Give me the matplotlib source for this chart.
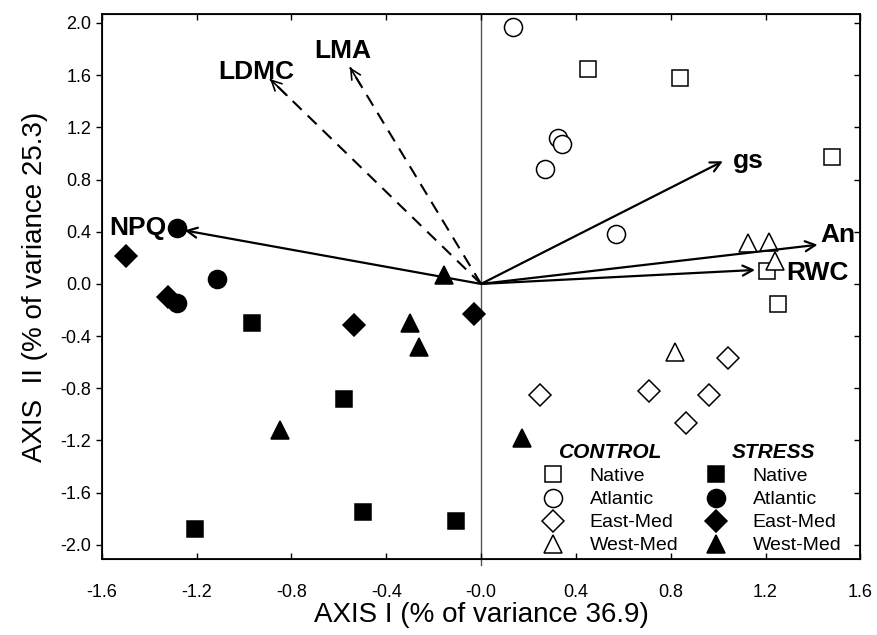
import matplotlib
matplotlib.use("Agg")
import matplotlib.pyplot as plt

plt.rcParams['font.family'] = ['Liberation Sans', 'DejaVu Sans']

# control group scores (open symbols)
ctrl_native_x = [0.45, 0.84, 1.48, 1.207, 1.253]
ctrl_native_y = [1.65, 1.58, 0.97, 0.10, -0.153]
ctrl_atl_x = [0.135, 0.325, 0.34, 0.27, 0.57]
ctrl_atl_y = [1.97, 1.12, 1.07, 0.88, 0.38]
ctrl_east_x = [0.25, 0.71, 1.04, 0.96, 0.865]
ctrl_east_y = [-0.85, -0.82, -0.57, -0.85, -1.065]
ctrl_west_x = [1.127, 1.215, 1.24, 0.82]
ctrl_west_y = [0.314, 0.322, 0.176, -0.52]

# stress group scores (filled symbols)
str_native_x = [-0.966, -0.58, -1.207, -0.50, -0.105]
str_native_y = [-0.30, -0.88, -1.88, -1.75, -1.82]
str_atl_x = [-1.283, -1.114, -1.283]
str_atl_y = [0.43, 0.04, -0.146]
str_east_x = [-1.498, -1.32, -0.536, -0.03]
str_east_y = [0.215, -0.10, -0.315, -0.23]
str_west_x = [-0.156, -0.30, -0.26, -0.85, 0.173]
str_west_y = [0.07, -0.30, -0.48, -1.12, -1.18]

# trait vectors
vec_names = ["NPQ", "LDMC", "LMA", "gs", "An", "RWC"]
vec_x = [-1.25, -0.89, -0.553, 1.02, 1.42, 1.156]
vec_y = [0.41, 1.57, 1.66, 0.94, 0.30, 0.107]
vec_dashed = [False, True, True, False, False, False]

groups = ["Native", "Atlantic", "East-Med", "West-Med"]

xticks = [-1.6, -1.2, -0.8, -0.4, 0.0, 0.4, 0.8, 1.2, 1.6]
xtick_labels = ["-1.6", "-1.2", "-0.8", "-0.4", "-0.0", "0.4", "0.8", "1.2", "1.6"]
yticks = [-2.0, -1.6, -1.2, -0.8, -0.4, 0.0, 0.4, 0.8, 1.2, 1.6, 2.0]
ytick_labels = ["-2.0", "-1.6", "-1.2", "-0.8", "-0.4", "0.0", "0.4", "0.8", "1.2", "1.6", "2.0"]

fig = plt.figure(figsize=(8.77, 6.35), dpi=100)
ax = fig.add_axes([0.116, 0.12, 0.865, 0.858])
ax.set_xlim(-1.6, 1.6)
ax.set_ylim(-2.107, 2.069)

ax.axvline(0, ymin=-0.012, ymax=1, color="#555555", lw=1.0, clip_on=False, zorder=1)

# vectors
for name, vx, vy, d in zip(vec_names, vec_x, vec_y, vec_dashed):
    if d:
        ax.plot([0, vx], [0, vy], color="k", lw=1.5, ls=(0, (6, 4)), zorder=2)
        ax.annotate("", xy=(vx, vy), xytext=(vx * 0.92, vy * 0.92),
                    arrowprops=dict(arrowstyle="->", lw=1.2, color="k",
                                    mutation_scale=18, shrinkA=0, shrinkB=0))
    else:
        ax.annotate("", xy=(vx, vy), xytext=(0, 0),
                    arrowprops=dict(arrowstyle="->", lw=1.6, color="k",
                                    mutation_scale=18, shrinkA=0, shrinkB=0))

lab = dict(fontsize=19, fontweight="bold")
ax.text(-1.325, 0.43, "NPQ", ha="right", va="center", **lab)
ax.text(-0.95, 1.57, "LDMC", ha="center", va="baseline", **lab)
ax.text(-0.582, 1.73, "LMA", ha="center", va="baseline", **lab)
ax.text(1.063, 0.94, "gs", ha="left", va="center", **lab)
ax.text(1.43, 0.375, "An", ha="left", va="center", **lab)
ax.text(1.287, 0.08, "RWC", ha="left", va="center", **lab)

mk = dict(ls="none", color="k", mec="k", mew=1.1)
h1 = [
    ax.plot(ctrl_native_x, ctrl_native_y, "s", ms=12, mfc="white", **mk)[0],
    ax.plot(ctrl_atl_x, ctrl_atl_y, "o", ms=13, mfc="white", **mk)[0],
    ax.plot(ctrl_east_x, ctrl_east_y, "D", ms=11, mfc="white", **mk)[0],
    ax.plot(ctrl_west_x, ctrl_west_y, "^", ms=13, mfc="white", **mk)[0],
]
h2 = [
    ax.plot(str_native_x, str_native_y, "s", ms=11, mfc="k", **mk)[0],
    ax.plot(str_atl_x, str_atl_y, "o", ms=13, mfc="k", **mk)[0],
    ax.plot(str_east_x, str_east_y, "D", ms=11, mfc="k", **mk)[0],
    ax.plot(str_west_x, str_west_y, "^", ms=13, mfc="k", **mk)[0],
]

leg_kw = dict(frameon=False, fontsize=14, handlelength=1.0, handletextpad=1.4,
              labelspacing=0.28, borderpad=0, borderaxespad=0, loc="upper left",
              bbox_transform=fig.transFigure,
              title_fontproperties=dict(size=15, weight="bold", style="italic"))
leg1 = ax.legend(h1, groups, title="CONTROL", bbox_to_anchor=(0.619, 0.302), **leg_kw)
ax.add_artist(leg1)
ax.legend(h2, groups, title="STRESS", bbox_to_anchor=(0.805, 0.302), **leg_kw)

ax.set_xticks(xticks)
ax.set_xticklabels(xtick_labels)
ax.set_yticks(yticks)
ax.set_yticklabels(ytick_labels)
ax.tick_params(axis="both", labelsize=13, width=1.0, length=4)
ax.tick_params(axis="x", direction="in", top=True, pad=18)
ax.tick_params(axis="y", direction="out", right=False)

# inward ticks on the right side
ax2 = ax.twinx()
ax2.set_ylim(ax.get_ylim())
ax2.set_yticks(yticks)
ax2.tick_params(axis="y", direction="in", length=4, width=1.0, labelright=False)

for sp in ax.spines.values():
    sp.set_linewidth(1.3)

ax.set_xlabel("AXIS I (% of variance 36.9)", fontsize=20, labelpad=1)
ax.set_ylabel("AXIS  II (% of variance 25.3)", fontsize=20, labelpad=9)

fig.savefig("out.png", dpi=100)
